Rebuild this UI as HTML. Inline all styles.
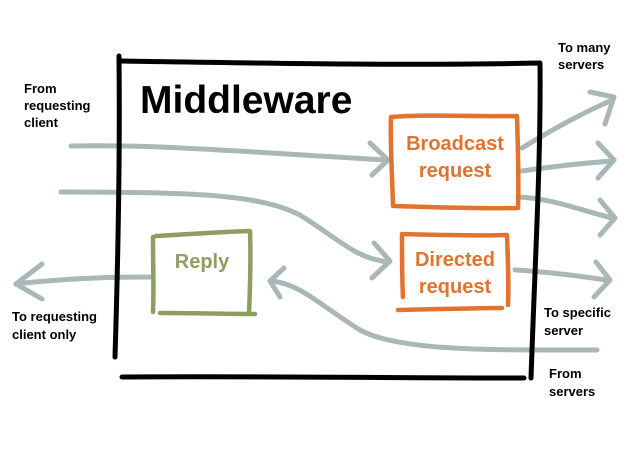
<!DOCTYPE html>
<html><head><style>body{margin:0;background:#fff}svg{display:block}</style></head><body>
<svg width="635" height="476" viewBox="0 0 635 476" xmlns="http://www.w3.org/2000/svg" font-family="Liberation Sans, sans-serif" font-weight="bold">
<g fill="none" stroke-linecap="round" stroke-linejoin="round">
<g stroke="#a9b7b7" stroke-width="5">
<path d="M71,146 C150,144 250,152 385,160"/>
<path d="M370,143 L388,160 L372,175"/>
<path d="M61,192 C200,192 260,195 300,215 C340,240 355,258 388,262"/>
<path d="M374,243 L390,261 L372,278"/>
<path d="M522,148 C560,125 585,112 612,100"/>
<path d="M590,92 L614,97 L605,124"/>
<path d="M522,171 C555,166 585,163 612,161"/>
<path d="M598,143 L614,160 L598,178"/>
<path d="M518,197 C550,198 580,210 612,218"/>
<path d="M600,200 L615,218 L600,235"/>
<path d="M515,270 C550,272 580,276 606,280"/>
<path d="M596,262 L610,280 L594,297"/>
<path d="M597,350 C500,350 400,352 360,330 C320,305 300,284 272,281"/>
<path d="M284,268 L270,281 L280,297"/>
<path d="M150,277 C110,277 60,279 16,284"/>
<path d="M42,264 L16,284 L42,299"/>
</g>
<g stroke="#000" stroke-width="5">
<path d="M119,56 L119,58 C120,150 118,260 115,357"/>
<path d="M120,61 C250,63 400,66 540,63 C541,160 535,260 531,378"/>
<path d="M122,377 C250,376 400,378 524,378"/>
</g>
<path d="M391,117 C430,114 480,117 517,116 C518,150 519,180 518,208 C480,209 430,207 393,206 C392,170 390,140 391,117" stroke="#e2722f" stroke-width="4.5"/>
<path d="M402,234 C440,235 480,236 507,235 C508,260 509,285 508,305 M402,234 C402,260 402,280 403,297 M398,310 C440,309 480,308 502,308" stroke="#e2722f" stroke-width="4.5"/>
<path d="M153,237 C153,265 154,290 153,312 M156,236 C190,234 220,232 250,231 C251,260 250,290 249,313 M160,313 C200,313 230,314 255,314" stroke="#8e9e62" stroke-width="4.5"/>
</g>
<text x="140" y="113" font-size="39">Middleware</text>
<g font-size="20" fill="#e2722f" text-anchor="middle">
<text x="455" y="150">Broadcast</text><text x="455" y="177">request</text>
<text x="455" y="266">Directed</text><text x="455" y="293">request</text>
</g>
<text x="202" y="268" font-size="20" fill="#8e9e62" text-anchor="middle">Reply</text>
<g font-size="13" fill="#000">
<text x="24" y="93">From</text><text x="24" y="110">requesting</text><text x="24" y="127">client</text>
<text x="12" y="321">To requesting</text><text x="12" y="339">client only</text>
<text x="558" y="52">To many</text><text x="558" y="69">servers</text>
<text x="544" y="317">To specific</text><text x="544" y="335">server</text>
<text x="549" y="378">From</text><text x="549" y="396">servers</text>
</g>
</svg>
</body></html>
